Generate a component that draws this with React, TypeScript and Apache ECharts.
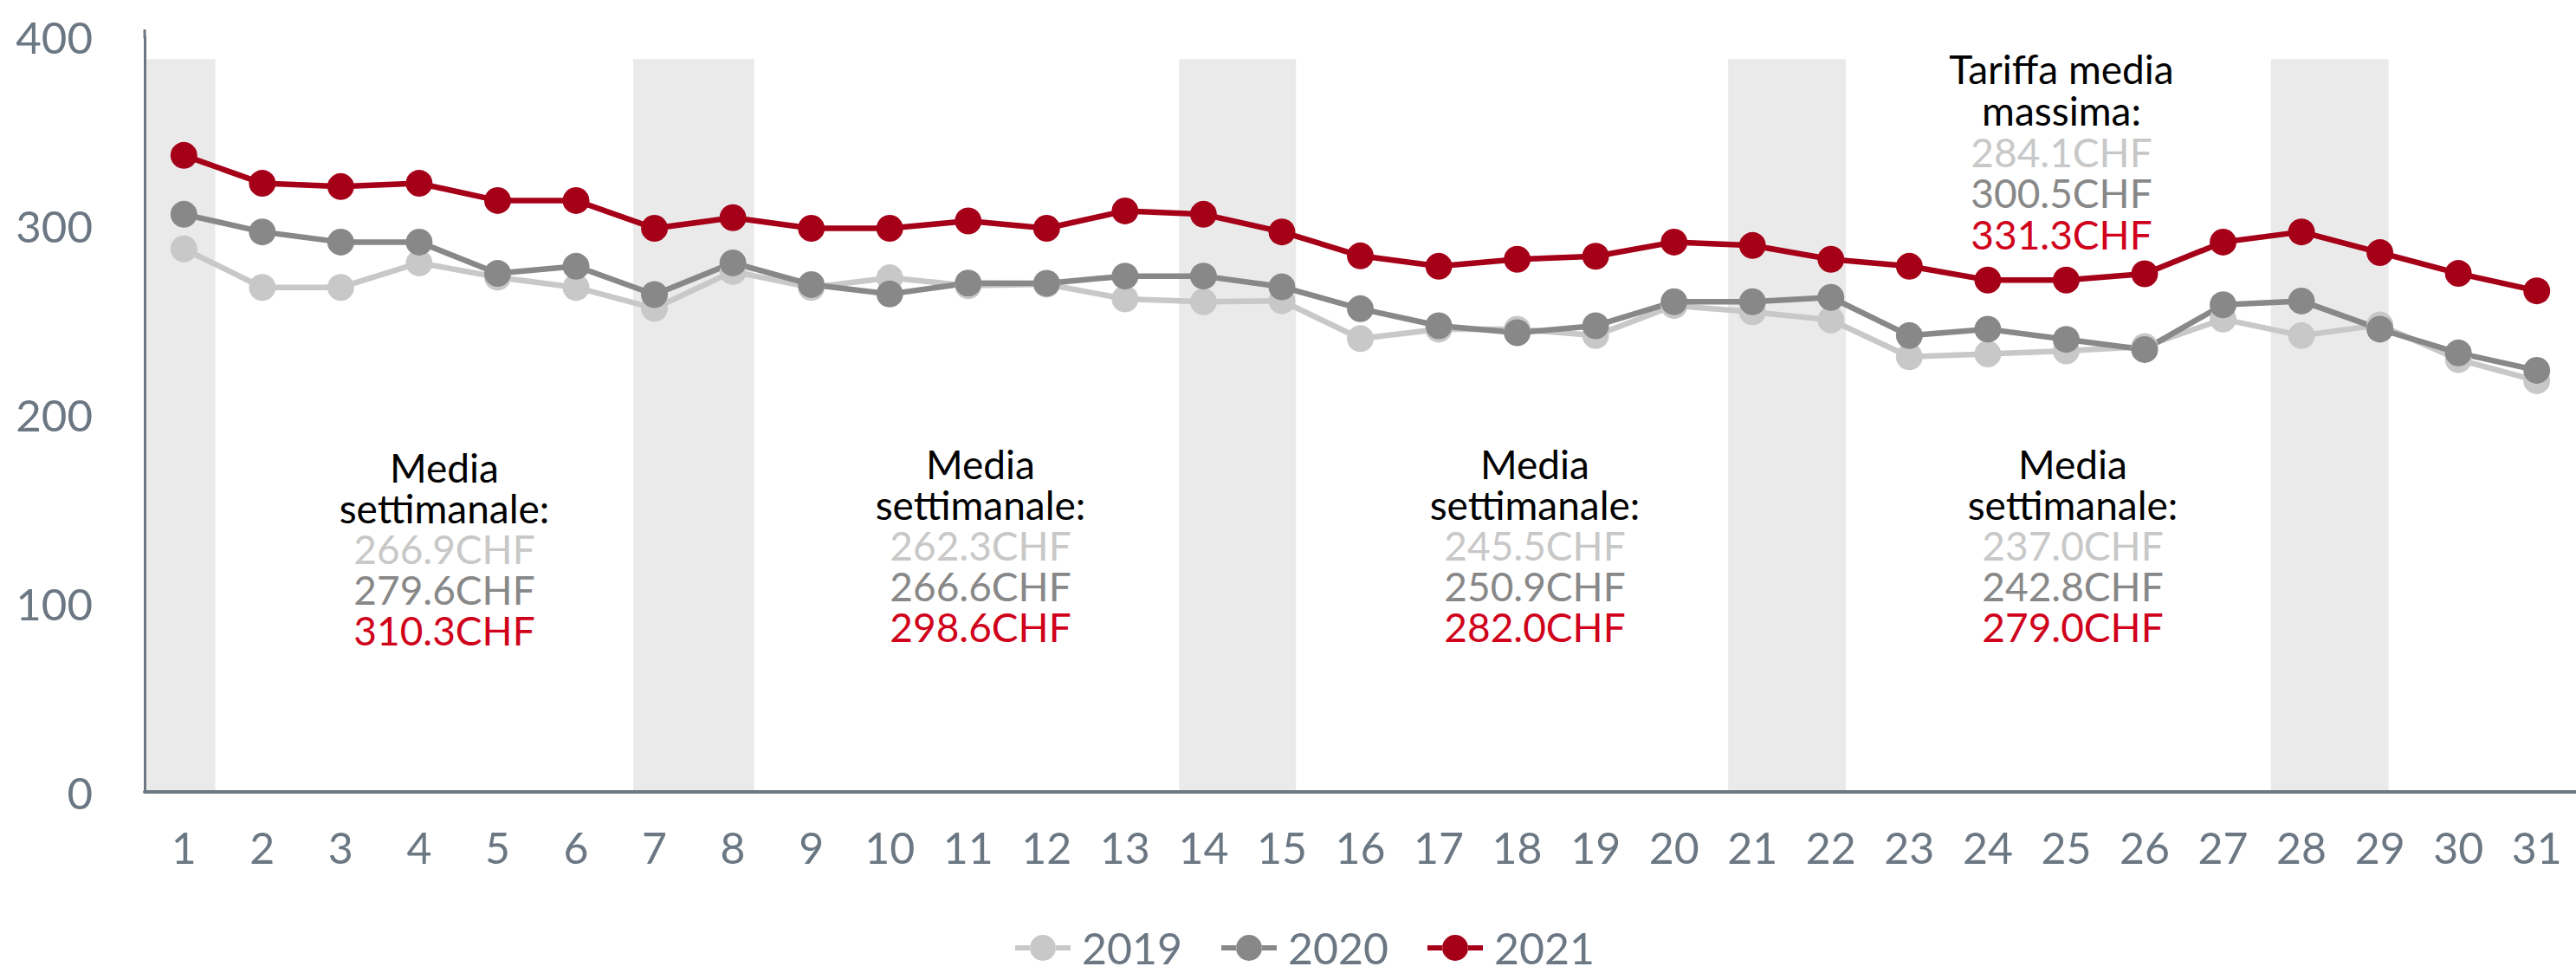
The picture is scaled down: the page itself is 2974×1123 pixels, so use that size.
import React, { useEffect, useRef } from "react";
import * as echarts from "echarts";

const DAYS = ["1","2","3","4","5","6","7","8","9","10","11","12","13","14","15","16","17","18","19","20","21","22","23","24","25","26","27","28","29","30","31"];

const Y2019 = [287.5, 267.1, 267.1, 280.1, 272.5, 267.1, 256.0, 275.5, 267.1, 272.2, 268.0, 268.8, 261.0, 259.5, 260.0, 240.0, 245.0, 245.0, 241.6, 257.5, 254.1, 249.9, 230.4, 231.9, 233.5, 235.8, 250.3, 241.6, 247.2, 228.9, 217.7];
const Y2020 = [305.8, 296.5, 291.1, 291.1, 274.5, 278.3, 263.3, 280.1, 268.6, 263.6, 269.4, 269.3, 273.1, 273.1, 267.4, 255.8, 246.8, 243.1, 246.8, 259.5, 259.5, 261.8, 241.6, 245.0, 239.6, 234.2, 257.9, 259.9, 245.0, 232.4, 223.2];
const Y2021 = [337.0, 322.2, 320.5, 322.2, 313.1, 313.1, 298.4, 304.0, 298.4, 298.4, 302.3, 298.4, 307.6, 305.8, 296.5, 283.8, 278.3, 282.0, 283.6, 291.1, 289.3, 282.0, 278.3, 271.0, 271.0, 274.3, 291.1, 296.5, 285.5, 274.5, 265.3];

const YEARS = ["2019", "2020", "2021"];
const Y_TICKS = [0, 100, 200, 300, 400];

// weekend shading bands, in day units on the category scale
const WEEKEND_BANDS = [[0.5, 1.4], [6.73, 8.27], [13.69, 15.18], [20.69, 22.19], [27.61, 29.11]];
const BAND_TOP = 388;

const WEEK_AVG_2019 = ["266.9", "262.3", "245.5", "237.0"];
const WEEK_AVG_2020 = ["279.6", "266.6", "250.9", "242.8"];
const WEEK_AVG_2021 = ["310.3", "298.6", "282.0", "279.0"];
const MAX_AVG = ["284.1", "300.5", "331.3"];

const C19 = "#C8C8C8";
const C20 = "#888888";
const C21 = "#A50018";
const TXT21 = "#D0021B";
const AXIS = "#6B7783";
const FONT = "Lato, 'Open Sans', sans-serif";
const LEGEND_ICON = "path://M0,12 H17.4 V18 H0 Z M46.6,12 H64 V18 H46.6 Z M17,15 A15,15 0 1,0 47,15 A15,15 0 1,0 17,15 Z";

export default function App() {
  const ref = useRef<HTMLDivElement>(null);
  useEffect(() => {
    document.body.style.margin = "0";
    const chart = echarts.init(ref.current!, null, { renderer: "svg" });

    const richBase = (size: number, lh: number) => ({
      k: { fill: "#000", color: "#000", fontSize: size, fontFamily: FONT, lineHeight: lh },
      a: { fill: C19, color: C19, fontSize: size, fontFamily: FONT, lineHeight: lh },
      g: { fill: C20, color: C20, fontSize: size, fontFamily: FONT, lineHeight: lh },
      r: { fill: TXT21, color: TXT21, fontSize: size, fontFamily: FONT, lineHeight: lh },
    });

    const weekCenters = [[513, 516], [1132, 512], [1772, 512], [2393, 512]];
    const weekTexts = weekCenters.map(([x, y], i) => ({
      type: "text",
      x,
      y,
      z: 100,
      style: {
        text:
          "{k|Media}\n{k|settimanale:}\n{a|" + WEEK_AVG_2019[i] + "CHF}\n{g|" + WEEK_AVG_2020[i] + "CHF}\n{r|" + WEEK_AVG_2021[i] + "CHF}",
        rich: richBase(46, 47),
        align: "center",
        verticalAlign: "top",
        fontSize: 46,
        fontFamily: FONT,
      },
    }));

    const maxText = {
      type: "text",
      x: 2380,
      y: 56,
      z: 100,
      style: {
        text:
          "{k|Tariffa media}\n{k|massima:}\n{a|" + MAX_AVG[0] + "CHF}\n{g|" + MAX_AVG[1] + "CHF}\n{r|" + MAX_AVG[2] + "CHF}",
        rich: richBase(46, 47.7),
        align: "center",
        verticalAlign: "top",
        fontSize: 46,
        fontFamily: FONT,
      },
    };

    const axisTop = {
      type: "line",
      z: 20,
      shape: { x1: 167, y1: 34, x2: 167, y2: 44 },
      style: { stroke: AXIS, lineWidth: 3 },
    };

    const lineSeries = (name: string, data: number[], color: string) => ({
      name,
      type: "line",
      data,
      xAxisIndex: 0,
      yAxisIndex: 0,
      symbol: "circle",
      symbolSize: 31,
      showSymbol: true,
      lineStyle: { color, width: 6.5 },
      itemStyle: { color },
      z: 5,
    });

    chart.setOption({
      animation: false,
      grid: { left: 167, width: 2815, top: 42, height: 872, containLabel: false },
      xAxis: [
        {
          type: "category",
          data: DAYS,
          boundaryGap: true,
          axisLine: { show: true, lineStyle: { color: AXIS, width: 4 } },
          axisTick: { show: false },
          axisLabel: { color: AXIS, fontSize: 50, fontFamily: FONT, margin: 39, interval: 0 },
          splitLine: { show: false },
          z: 10,
        },
        {
          type: "value",
          min: 0.5,
          max: 31.5,
          show: false,
        },
      ],
      yAxis: {
        type: "value",
        min: Y_TICKS[0],
        max: Y_TICKS[Y_TICKS.length - 1],
        interval: 100,
        axisLine: { show: true, lineStyle: { color: AXIS, width: 3 } },
        axisTick: { show: false },
        splitLine: { show: false },
        axisLabel: { color: AXIS, fontSize: 51, fontFamily: FONT, margin: 60 },
        z: 10,
      },
      legend: {
        data: YEARS.map((name) => ({ name, icon: LEGEND_ICON })),
        left: 1167,
        top: 1064,
        itemWidth: 64,
        itemHeight: 30,
        itemGap: 45,
        textStyle: { color: AXIS, fontSize: 50, lineHeight: 44, fontFamily: FONT, padding: [0, 0, 0, 8] },
      },
      series: [
        {
          name: "bands",
          type: "line",
          xAxisIndex: 1,
          yAxisIndex: 0,
          data: [],
          silent: true,
          z: 1,
          markArea: {
            silent: true,
            itemStyle: { color: "#EAEAEA" },
            data: WEEKEND_BANDS.map(([a, b]) => [
              { xAxis: a, yAxis: 0 },
              { xAxis: b, yAxis: BAND_TOP },
            ]),
          },
        },
        lineSeries(YEARS[0], Y2019, C19),
        lineSeries(YEARS[1], Y2020, C20),
        lineSeries(YEARS[2], Y2021, C21),
      ],
      graphic: [...weekTexts, maxText, axisTop],
    });

    return () => chart.dispose();
  }, []);

  return (
    <div
      ref={ref}
      style={{ position: "absolute", left: 0, top: 0, width: 2974, height: 1123, background: "#fff" }}
    />
  );
}
